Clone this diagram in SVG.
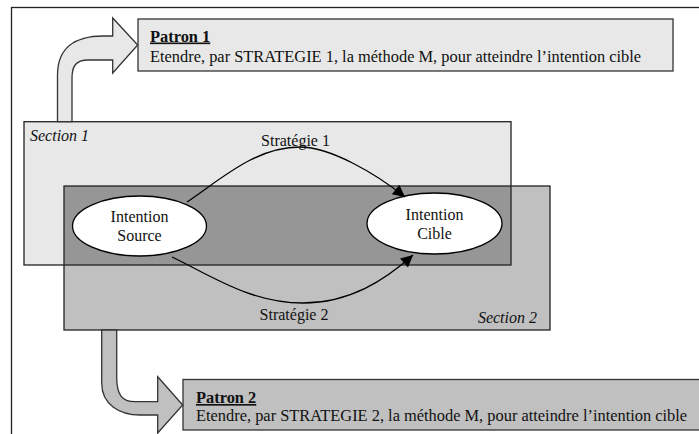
<svg xmlns="http://www.w3.org/2000/svg" width="699" height="434" viewBox="0 0 699 434">
<defs>
<style>
text{font-family:"Liberation Serif","Times New Roman",serif;font-size:16px;fill:#111}
.b{font-weight:bold;text-decoration:underline}
.i{font-style:italic}
.m{text-anchor:middle}
.p{font-size:16.4px}
.edge{fill:none;stroke:#000;stroke-width:1.3}
.ln{fill:none;stroke:#222;stroke-width:1.3}
</style>
<marker id="ah" viewBox="0 0 10 10" refX="10" refY="5" markerWidth="14" markerHeight="12" markerUnits="userSpaceOnUse" orient="auto">
<path d="M0,0 L10,5 L0,10 Z" fill="#000"/>
</marker>
</defs>
<rect width="699" height="434" fill="#fff"/>
<rect x="11.5" y="7.5" width="720" height="450" class="ln"/>

<g id="section1">
<rect x="24" y="121.7" width="487" height="143.3" fill="#e8e8e8"/>
</g>
<g id="section2">
<rect x="64" y="186" width="486" height="144" fill="#c0c0c0"/>
<rect x="64" y="186" width="447" height="79" fill="#969696"/>
<rect x="24" y="121.7" width="487" height="143.3" class="ln"/>
<rect x="64" y="186" width="486" height="144" class="ln"/>
<text x="30" y="140.7" class="i">Section 1</text>
<text x="537" y="323.3" class="i" text-anchor="end">Section 2</text>
</g>

<g id="patron1">
<rect x="138" y="19" width="535" height="52" fill="#e8e8e8" stroke="#333" stroke-width="1.3"/>
<text x="150" y="41.5" class="b p">Patron 1</text>
<text x="150" y="62" class="p">Etendre, par STRATEGIE 1, la méthode M, pour atteindre l’intention cible</text>
</g>

<g id="patron2">
<rect x="183" y="379.5" width="540" height="50.5" fill="#c0c0c0" stroke="#333" stroke-width="1.3"/>
<text x="196" y="403" class="b p">Patron 2</text>
<text x="196" y="420.7" class="p">Etendre, par STRATEGIE 2, la méthode M, pour atteindre l’intention cible</text>
</g>

<g id="intention-source">
<ellipse cx="139.5" cy="226" rx="67" ry="30" fill="#fff" stroke="#000" stroke-width="1.3"/>
<text x="139.5" y="222" class="m">Intention</text>
<text x="139.5" y="241" class="m">Source</text>
</g>

<g id="intention-cible">
<ellipse cx="434.5" cy="223.5" rx="67.5" ry="30.5" fill="#fff" stroke="#000" stroke-width="1.3"/>
<text x="434.5" y="220" class="m">Intention</text>
<text x="434.5" y="239" class="m">Cible</text>
</g>

<g id="connectors">
<path d="M57.5,121.7 L57.5,75 C57.5,48 75,36 103,36 L112.7,36 L112.7,18 L137.7,45 L112.7,73 L112.7,60 L88,60 C76,60 72,66 72,78 L72,121.7 Z" fill="#e8e8e8" stroke="#333" stroke-width="1.3"/>
<path d="M101.7,330 L101.7,383 C101.7,405 120,415 140,415 L157.7,415 L157.7,433 L182.7,405 L157.7,376.7 L157.7,401.7 L135,401.7 C122,401.7 116.7,395 116.7,377 L116.7,330 Z" fill="#c0c0c0" stroke="#333" stroke-width="1.3"/>
<path d="M187,202 C220,180 255,147 300,147 C330,147 375,173 405,197" class="edge" marker-end="url(#ah)"/>
<path d="M172,257 C210,275 250,303 303,303 C350,303 385,280 413,255" class="edge" marker-end="url(#ah)"/>
<text x="295.5" y="146" class="m">Stratégie 1</text>
<text x="294" y="320" class="m">Stratégie 2</text>
</g>
</svg>
